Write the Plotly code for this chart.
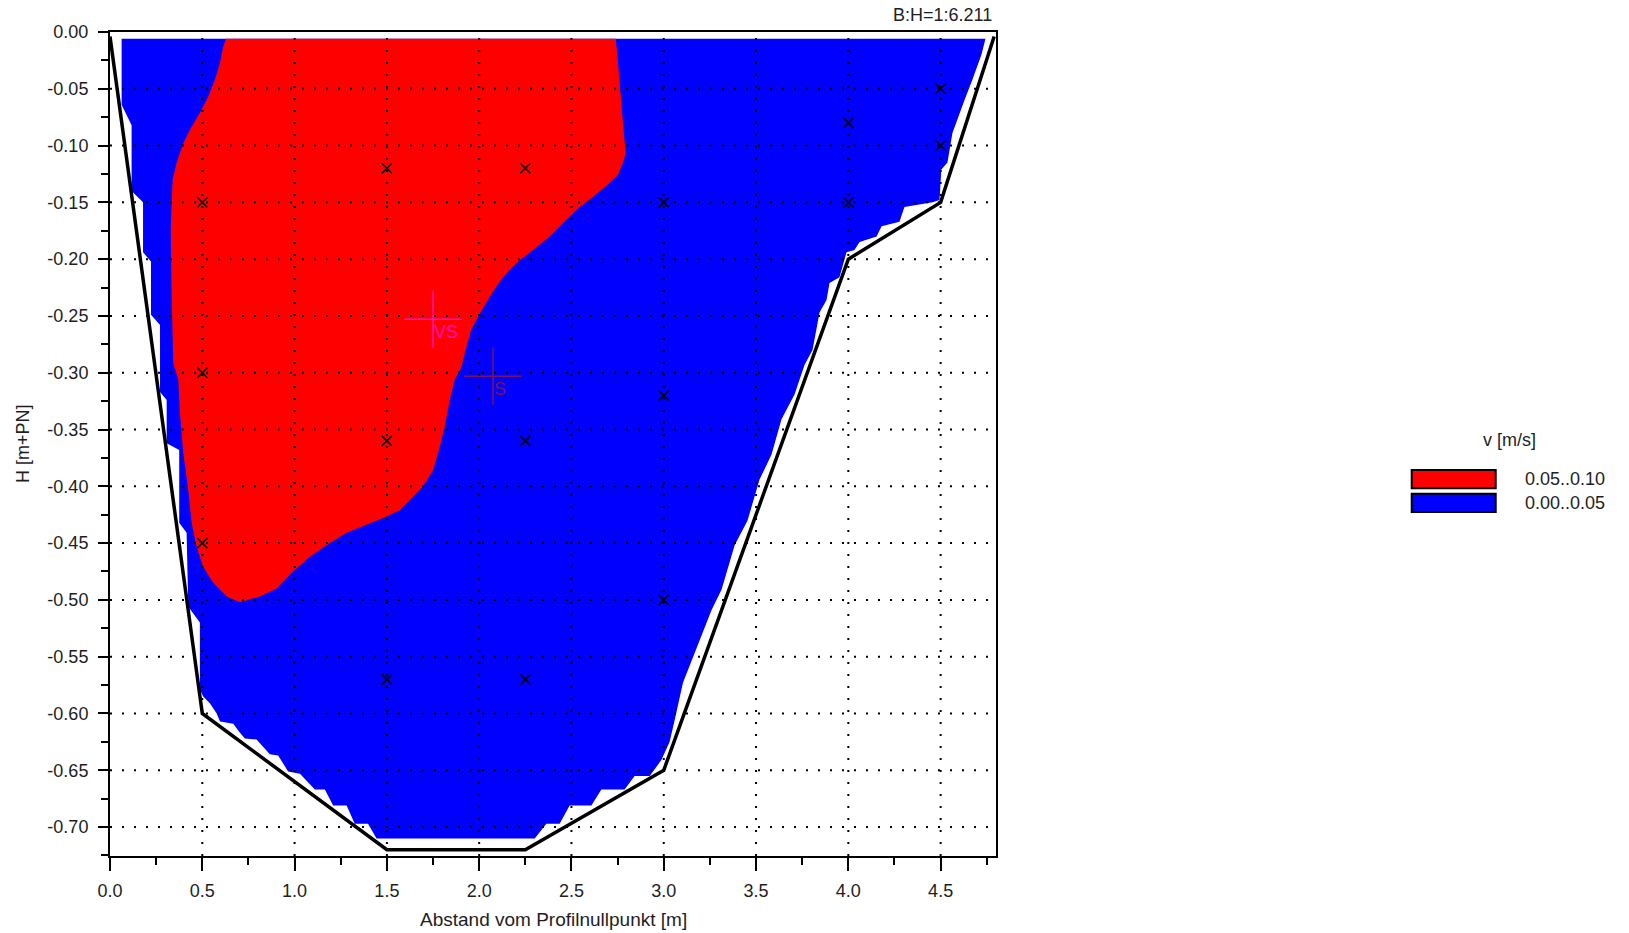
import plotly.graph_objects as go

# ---------------- data ----------------
# channel profile (distance [m], height [m+PN])
profile_x = [0.0, 0.5, 1.5, 2.25, 3.0, 4.0, 4.5, 4.79]
profile_y = [-0.004, -0.60, -0.72, -0.72, -0.65, -0.20, -0.15, -0.004]

# velocity class 0.00..0.05 m/s (blue area, outline)
blue_x = [0.063, 4.743, 4.721, 4.694, 4.672, 4.629, 4.564, 4.537, 4.504, 4.494, 4.456,
          4.304, 4.277, 4.180, 4.153, 4.061, 4.033, 3.990, 3.952, 3.898, 3.882, 3.844,
          3.806, 3.763, 3.709, 3.638, 3.584, 3.519, 3.454, 3.384, 3.313, 3.259, 3.167,
          3.104, 3.059, 3.032, 2.987, 2.924, 2.842, 2.788, 2.662, 2.608, 2.490, 2.436,
          2.364, 2.301, 1.444, 1.398, 1.326, 1.282, 1.209, 1.164, 1.110, 1.029, 0.965,
          0.938, 0.911, 0.866, 0.830, 0.794, 0.731, 0.704, 0.668, 0.596, 0.578, 0.541,
          0.505, 0.487, 0.487, 0.487, 0.424, 0.415, 0.375, 0.375, 0.307, 0.307, 0.271,
          0.271, 0.222, 0.222, 0.179, 0.179, 0.117, 0.117, 0.063]
blue_y = [-0.006, -0.006, -0.020, -0.033, -0.042, -0.060, -0.089, -0.115, -0.121, -0.148, -0.150,
          -0.154, -0.167, -0.171, -0.180, -0.185, -0.192, -0.194, -0.216, -0.221, -0.236, -0.247,
          -0.280, -0.293, -0.319, -0.341, -0.372, -0.394, -0.430, -0.452, -0.491, -0.509, -0.547,
          -0.573, -0.606, -0.625, -0.641, -0.655, -0.655, -0.667, -0.667, -0.681, -0.681, -0.697,
          -0.697, -0.710, -0.710, -0.697, -0.697, -0.681, -0.681, -0.667, -0.667, -0.653, -0.651,
          -0.644, -0.637, -0.636, -0.629, -0.623, -0.622, -0.617, -0.609, -0.607, -0.600, -0.591,
          -0.585, -0.579, -0.544, -0.520, -0.506, -0.441, -0.432, -0.368, -0.362, -0.324, -0.317,
          -0.258, -0.249, -0.202, -0.194, -0.150, -0.140, -0.082, -0.064]

# velocity class 0.05..0.10 m/s (red area, outline)
red_x = [0.628, 2.740, 2.752, 2.765, 2.779, 2.794, 2.779, 2.752, 2.707, 2.617, 2.545,
         2.473, 2.382, 2.292, 2.220, 2.166, 2.111, 2.057, 2.003, 1.958, 1.931, 1.904,
         1.868, 1.841, 1.814, 1.787, 1.750, 1.696, 1.642, 1.570, 1.480, 1.371, 1.282,
         1.191, 1.083, 0.992, 0.903, 0.812, 0.704, 0.632, 0.559, 0.505, 0.469, 0.442,
         0.424, 0.397, 0.379, 0.370, 0.343, 0.334, 0.329, 0.339, 0.361, 0.397, 0.433,
         0.487, 0.532, 0.568, 0.596, 0.613]
red_y = [-0.006, -0.006, -0.027, -0.057, -0.080, -0.107, -0.115, -0.126, -0.133, -0.145, -0.154,
         -0.165, -0.180, -0.192, -0.201, -0.209, -0.220, -0.233, -0.248, -0.262, -0.277, -0.295,
         -0.306, -0.324, -0.347, -0.365, -0.386, -0.400, -0.409, -0.421, -0.428, -0.435, -0.441,
         -0.450, -0.462, -0.475, -0.490, -0.497, -0.502, -0.497, -0.485, -0.471, -0.453, -0.432,
         -0.403, -0.371, -0.336, -0.306, -0.292, -0.233, -0.174, -0.130, -0.115, -0.098, -0.086,
         -0.071, -0.057, -0.042, -0.027, -0.013]

# measuring points
meas_x = [0.5, 0.5, 0.5, 1.5, 1.5, 1.5, 2.25, 2.25, 2.25, 3.0, 3.0, 3.0, 4.0, 4.0, 4.5, 4.5]
meas_y = [-0.15, -0.30, -0.45, -0.12, -0.36, -0.57, -0.12, -0.36, -0.57, -0.15, -0.32, -0.50,
          -0.08, -0.15, -0.05, -0.10]

# special points: VS and S
special_names = ["VS", "S"]
special_x = [1.75, 2.075]
special_y = [-0.253, -0.303]
special_colors = ["#ff10c8", "#7a1060"]

# axes
x_ticks = [0.0, 0.5, 1.0, 1.5, 2.0, 2.5, 3.0, 3.5, 4.0, 4.5]
x_ticktext = ["0.0", "0.5", "1.0", "1.5", "2.0", "2.5", "3.0", "3.5", "4.0", "4.5"]
y_ticks = [0.0, -0.05, -0.10, -0.15, -0.20, -0.25, -0.30, -0.35, -0.40, -0.45, -0.50,
           -0.55, -0.60, -0.65, -0.70]
y_ticktext = ["0.00", "-0.05", "-0.10", "-0.15", "-0.20", "-0.25", "-0.30", "-0.35", "-0.40",
              "-0.45", "-0.50", "-0.55", "-0.60", "-0.65", "-0.70"]
x_range = [0.0, 4.8]
y_range = [-0.7255, 0.0]

legend_title = "v [m/s]"
legend_labels = ["0.05..0.10", "0.00..0.05"]
legend_colors = ["#ff0000", "#0000ff"]

FONT = "Liberation Sans, Arial, sans-serif"
TXT = "#1e1e1e"

fig = go.Figure()

fig.add_trace(go.Scatter(x=blue_x, y=blue_y, fill="toself", fillcolor="#0000ff",
                         mode="lines", line=dict(width=0, color="#0000ff"),
                         hoverinfo="skip", showlegend=False))
fig.add_trace(go.Scatter(x=red_x, y=red_y, fill="toself", fillcolor="#ff0000",
                         mode="lines", line=dict(width=0, color="#ff0000"),
                         hoverinfo="skip", showlegend=False))

# dotted grid (above fills)
gx, gy = [], []
for v in x_ticks[1:]:
    gx += [v, v, None]
    gy += [y_range[0], y_range[1], None]
for v in y_ticks[1:]:
    gx += [x_range[0], x_range[1], None]
    gy += [v, v, None]
fig.add_trace(go.Scatter(x=gx, y=gy, mode="lines",
                         line=dict(color="black", width=2, dash="2px,10px"),
                         hoverinfo="skip", showlegend=False))

fig.add_trace(go.Scatter(x=profile_x, y=profile_y, mode="lines",
                         line=dict(color="black", width=3.5),
                         hoverinfo="skip", showlegend=False))

fig.add_trace(go.Scatter(x=meas_x, y=meas_y, mode="markers",
                         marker=dict(symbol="x-thin", size=10,
                                     line=dict(color="black", width=1.5)),
                         showlegend=False))

for name, sx, sy, col in zip(special_names, special_x, special_y, special_colors):
    fig.add_trace(go.Scatter(x=[sx], y=[sy], mode="markers",
                             marker=dict(symbol="cross-thin", size=41,
                                         line=dict(color=col, width=1.5)),
                             showlegend=False))
    fig.add_annotation(x=sx, y=sy, text=name, showarrow=False, xanchor="left",
                       yanchor="top", xshift=-1, yshift=-1,
                       font=dict(family=FONT, size=18, color=col))

axis_common = dict(showline=True, linecolor="black", linewidth=2, mirror=True,
                   ticks="outside", tickcolor="black", tickwidth=1.5,
                   showgrid=False, zeroline=False, tickmode="array",
                   tickfont=dict(family=FONT, size=18, color=TXT))

fig.update_xaxes(range=x_range, tickvals=x_ticks, ticktext=x_ticktext, ticklen=13,
                 ticklabelstandoff=4,
                 minor=dict(tickmode="linear", tick0=0.25, dtick=0.5, ticks="outside",
                            ticklen=7, tickwidth=1.5, tickcolor="black", showgrid=False),
                 **axis_common)
fig.update_yaxes(range=y_range, tickvals=y_ticks, ticktext=y_ticktext, ticklen=10,
                 ticklabelstandoff=6,
                 minor=dict(tickmode="linear", tick0=-0.025, dtick=0.05, ticks="outside",
                            ticklen=7, tickwidth=1.5, tickcolor="black", showgrid=False),
                 **axis_common)

# axis titles and scale note
fig.add_annotation(text="Abstand vom Profilnullpunkt [m]", xref="paper", yref="paper",
                   x=0.5, y=0, yshift=-63, xanchor="center", yanchor="middle",
                   showarrow=False, font=dict(family=FONT, size=19, color=TXT))
fig.add_annotation(text="H [m+PN]", xref="paper", yref="paper", x=0, xshift=-87,
                   y=0.5, textangle=-90, xanchor="center", yanchor="middle",
                   showarrow=False, font=dict(family=FONT, size=18, color=TXT))
fig.add_annotation(text="B:H=1:6.211", xref="paper", yref="paper", x=1, xshift=-2,
                   y=1, yshift=17, xanchor="right", yanchor="middle",
                   showarrow=False, font=dict(family=FONT, size=18, color=TXT))

# legend (paper coordinates, outside the plot)
fig.add_annotation(text=legend_title, xref="paper", yref="paper", x=1.580, y=0.5049,
                   xanchor="center", yanchor="middle", showarrow=False,
                   font=dict(family=FONT, size=18, color=TXT))
box_tops = [0.4684, 0.4397]
box_h = 0.0222
for lab, col, top in zip(legend_labels, legend_colors, box_tops):
    fig.add_shape(type="rect", xref="paper", yref="paper", x0=1.4692, x1=1.5640,
                  y0=top - box_h, y1=top, fillcolor=col,
                  line=dict(color="black", width=2))
    fig.add_annotation(text=lab, xref="paper", yref="paper", x=1.5948, y=top - box_h / 2,
                       xanchor="left", yanchor="middle", showarrow=False,
                       font=dict(family=FONT, size=18, color=TXT))

fig.update_layout(width=1629, height=933, autosize=False,
                  margin=dict(l=110, r=633, t=32, b=77),
                  paper_bgcolor="white", plot_bgcolor="white",
                  showlegend=False)

fig.write_html("out.html")
